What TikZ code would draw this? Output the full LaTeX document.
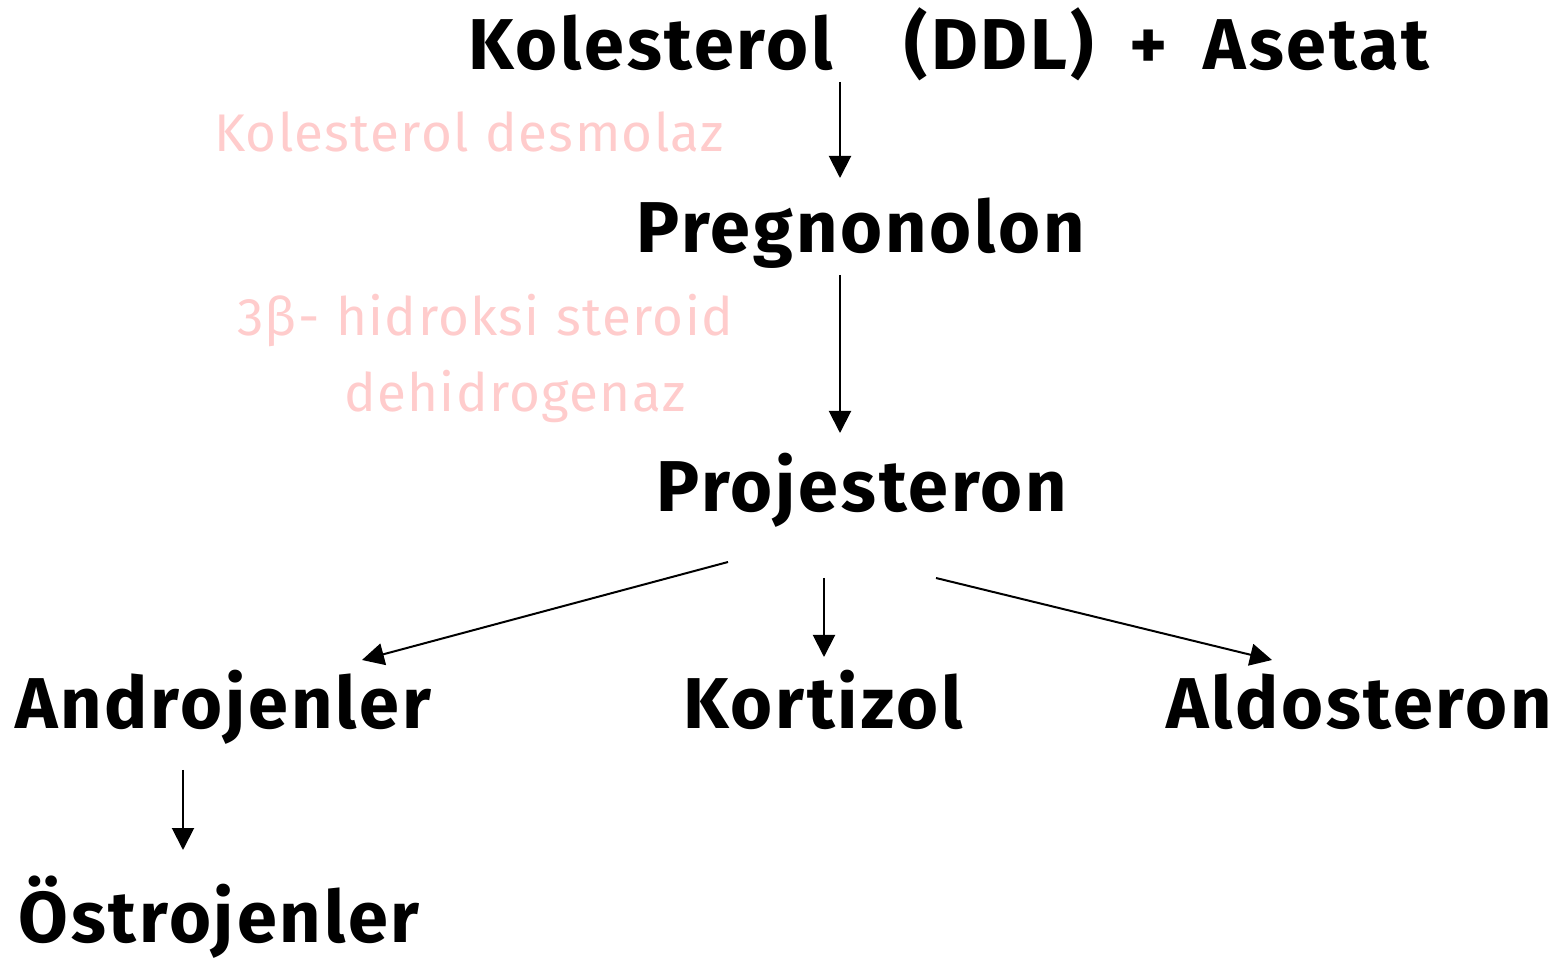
\documentclass[tikz,border=0pt]{standalone}
\usepackage{fontspec}
\setmainfont{Fira Sans}[LetterSpace=4, WordSpace=1.8]
\newfontfamily\enzfont{Fira Sans}[LetterSpace=2.5, WordSpace=1.1]
\usetikzlibrary{arrows.meta,calc}

\definecolor{enzpink}{RGB}{255,204,204}

\begin{document}
\begin{tikzpicture}[x=0.5pt, y=-0.5pt,
    compound/.style={anchor=base, inner sep=0pt, font=\fontsize{36}{42}\selectfont\bfseries},
    enzyme/.style={anchor=base, inner sep=0pt, text=enzpink, font=\enzfont\fontsize{26.5}{31}\selectfont},
    arr/.style={-{Triangle[width=11pt,length=11pt]}, line width=1pt}]

\useasboundingbox (0,0) rectangle (1560,962);

% compounds
\node[compound] (kol)  at (949,70)  {Kolesterol\hspace{1em}(DDL) + Asetat};
\node[compound] (preg) at (861,253) {Pregnonolon};
\node[compound] (proj) at (862,512) {Projesteron};
\node[compound] (andr) at (223,728) {Androjenler};
\node[compound] (kort) at (823,728) {Kortizol};
\node[compound] (ald)  at (1359,728) {Aldosteron};
\node[compound] (ostr) at (219,942) {Östrojenler};

% enzymes
\node[enzyme] (desm) at (469,152) {Kolesterol desmolaz};
\node[enzyme] (hsd1) at (485,336) {3β- hidroksi steroid};
\node[enzyme] (hsd2) at (515,412) {dehidrogenaz};

% steps
\draw[arr] ($(kol.base)+(-109,12)$) -- ($(preg.base)+(-21,-75)$);
\draw[arr] ($(preg.base)+(-21,22)$) -- ($(proj.base)+(-22,-79)$);
\draw[arr] ($(proj.base)+(-134,50)$) -- ($(andr.base)+(139,-68)$);
\draw[arr] ($(proj.base)+(-38,66)$) -- ($(kort.base)+(1,-71)$);
\draw[arr] ($(proj.base)+(74,66)$) -- ($(ald.base)+(-87,-68)$);
\draw[arr] ($(andr.base)+(-40,42)$) -- ($(ostr.base)+(-36,-92)$);

\end{tikzpicture}
\end{document}
